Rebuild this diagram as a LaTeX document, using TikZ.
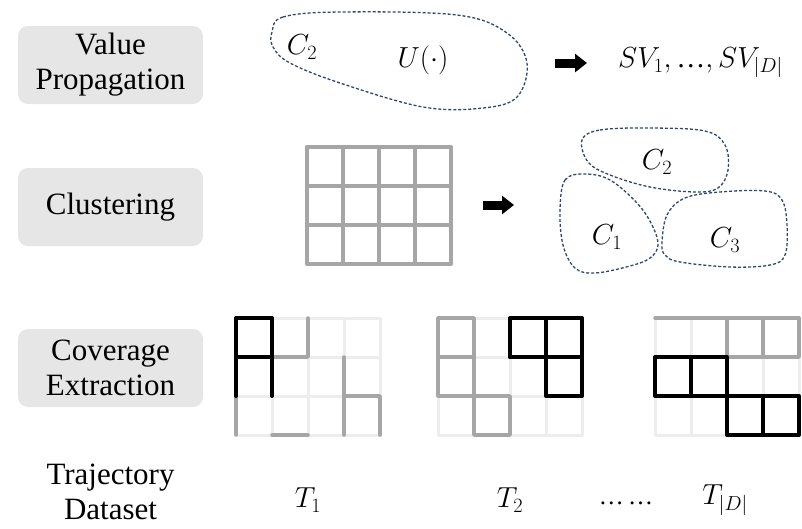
\documentclass[tikz,border=0pt]{standalone}
\usepackage{fix-cm}
\usepackage{amsmath}
\usepackage{fontspec}
\setmainfont{Liberation Serif}
\usepackage{tikz}
\usetikzlibrary{arrows.meta}
\definecolor{boxgray}{HTML}{E6E6E6}
\definecolor{midgray}{HTML}{A6A6A6}
\definecolor{palegray}{HTML}{EDEDED}
\definecolor{clusterblue}{HTML}{2F4670}
\tikzstyle{stage} = [rounded corners=10pt, fill=boxgray, minimum width=185pt, minimum height=78pt, inner sep=0pt, align=center, font=\fontsize{31}{35}\selectfont]
\tikzstyle{plain} = [align=center, inner sep=0pt, font=\fontsize{31}{35}\selectfont]
\tikzstyle{mathlbl} = [inner sep=0pt, font=\fontsize{29}{33}\selectfont]
\tikzstyle{cluster} = [draw=clusterblue, dash pattern=on 3pt off 2pt, line width=1.3pt]
\tikzstyle{fatarrow} = [line width=9pt, -{Triangle[length=12pt,width=18pt]}]
\tikzstyle{pale} = [draw=palegray, line width=3pt, line cap=round, line join=round]
\tikzstyle{mid} = [draw=midgray, line width=3.5pt, line cap=round, line join=round]
\tikzstyle{dark} = [draw=black, line width=4pt, line cap=round, line join=round]
\newcommand{\basegrid}[1]{%
	\draw[#1] (0,0) rectangle (4,3);
	\foreach \i in {1,2,3} \draw[#1] (\i,0) -- (\i,3);
	\foreach \j in {1,2} \draw[#1] (0,\j) -- (4,\j);}

\begin{document}
\begin{tikzpicture}[x=1pt, y=-1pt]
	\useasboundingbox (0,0) rectangle (802,528);
	% -------------- Stage labels --------------
	\node[stage] (vp) at (110.5,65)  {Value\\Propagation};
	\node[stage] (cl) at (110.5,207) {Clustering};
	\node[stage] (ce) at (110.5,368) {Coverage\\Extraction};
	\node[plain] (td) at (110.5,492) {Trajectory\\Dataset};
	% -------------- Value propagation --------------
	\draw[cluster] plot[smooth cycle, tension=0.6] coordinates {(272,32) (283,17) (340,12) (457,15) (507,33) (527,63) (517,97) (483,108) (423,107) (340,83) (290,63) (273,47)};
	\node[mathlbl] (ctop) at (302,47) {$C_2$};
	\node[mathlbl] (util) at (423,60) {$U(\cdot)$};
	\node[mathlbl, anchor=west] (sv) at (618,63) {$SV_1,\text{…},SV_{|D|}$};
	\coordinate (vpa) at (555,63);
	\coordinate (vpb) at (587,63);
	\draw[fatarrow] (vpa) -- (vpb);
	% -------------- Clustering --------------
	\begin{scope}[shift={(307,147)}, x=36pt, y=-39pt]
		\basegrid{mid, line width=4pt}
	\end{scope}
	\coordinate (cla) at (483,205);
	\coordinate (clb) at (514,205);
	\draw[fatarrow] (cla) -- (clb);
	\draw[cluster] plot[smooth cycle, tension=0.6] coordinates {(582,140) (600,130) (650,128) (705,131) (725,145) (728,170) (718,188) (695,192) (650,187) (610,175) (588,162)};
	\draw[cluster] plot[smooth cycle, tension=0.6] coordinates {(560,210) (565,180) (585,174) (610,180) (637,203) (652,225) (658,245) (650,258) (630,266) (595,273) (575,268) (563,245)};
	\draw[cluster] plot[smooth cycle, tension=0.6] coordinates {(662,243) (667,215) (685,198) (720,192) (765,191) (782,200) (787,225) (785,255) (770,265) (730,267) (680,262) (665,255)};
	\node[mathlbl] (ctwo) at (657,162) {$C_2$};
	\node[mathlbl] (cone) at (607,237) {$C_1$};
	\node[mathlbl] (cthree) at (725,240) {$C_3$};
	% -------------- Coverage T1 --------------
	\begin{scope}[shift={(236,318)}, x=36pt, y=-39pt]
		\basegrid{pale}
		\draw[mid] (1,1) -- (2,1) -- (2,0);
		\draw[mid] (0,2) -- (0,3);
		\draw[mid] (1,3) -- (2,3);
		\draw[mid] (3,1) -- (3,3);
		\draw[mid] (3,2) -- (4,2) -- (4,3);
		\draw[dark] (0,2) -- (0,0) -- (1,0) -- (1,2);
		\draw[dark] (0,1) -- (1,1);
	\end{scope}
	% -------------- Coverage T2 --------------
	\begin{scope}[shift={(438,318)}, x=36pt, y=-39pt]
		\basegrid{pale}
		\draw[mid] (0,2) -- (0,0) -- (1,0) -- (1,3) -- (2,3) -- (2,2) -- (0,2);
		\draw[mid] (0,1) -- (1,1);
		\draw[dark] (2,1) -- (2,0) -- (4,0) -- (4,2) -- (3,2) -- (3,0);
		\draw[dark] (2,1) -- (4,1);
	\end{scope}
	% -------------- Coverage T|D| --------------
	\begin{scope}[shift={(655,318)}, x=36pt, y=-39pt]
		\basegrid{pale}
		\draw[mid] (0,0) -- (4,0);
		\draw[mid] (2,0) -- (2,1) -- (4,1) -- (4,0);
		\draw[mid] (3,0) -- (3,1);
		\draw[dark] (0,1) rectangle (2,2);
		\draw[dark] (1,1) -- (1,2);
		\draw[dark] (2,2) rectangle (4,3);
		\draw[dark] (3,2) -- (3,3);
	\end{scope}
	% -------------- Trajectories --------------
	\node[mathlbl] (tone) at (308,500) {$T_1$};
	\node[mathlbl] (ttwo) at (510,500) {$T_2$};
	\node[mathlbl, font=\fontsize{25}{29}\selectfont] (dots) at (626,503) {…\,…};
	\node[mathlbl] (tlast) at (725,500) {$T_{|D|}$};
\end{tikzpicture}
\end{document}
